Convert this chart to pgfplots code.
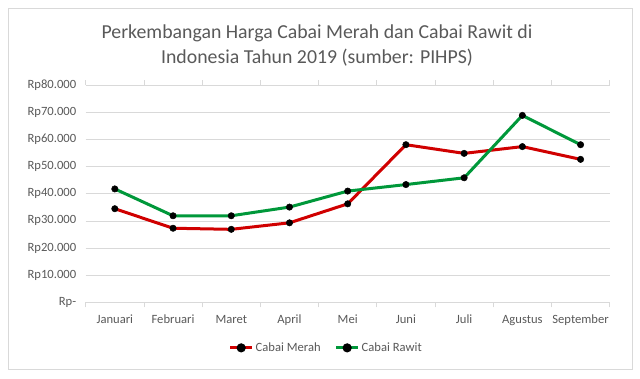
\documentclass[border=0pt]{standalone}
\usepackage{pgfplots}
\pgfplotsset{compat=1.18}
\usepackage{fontspec}
\setmainfont{Carlito}
\definecolor{txt}{HTML}{595959}
\definecolor{grid}{HTML}{D9D9D9}
\definecolor{cred}{HTML}{D00000}
\definecolor{cgreen}{HTML}{00983A}
\begin{document}
\begin{tikzpicture}[x=1pt,y=1pt]
\path[use as bounding box] (0,0) rectangle (640,379);
\draw[color=grid, line width=1pt] (8,9) rectangle (632,370);
\node[text=txt, font=\fontsize{19.8}{25}\selectfont, align=center] at (317,333) {Perkembangan Harga Cabai Merah dan Cabai Rawit di\\Indonesia Tahun 2019 (sumber: PIHPS)};
\begin{axis}[
  at={(85.7pt,76.7pt)}, anchor=south west,
  width=524pt, height=217pt, scale only axis,
  xmin=0, xmax=9, ymin=0, ymax=80000,
  scaled y ticks=false,
  axis line style={draw=none},
  xtick={0.5,1.5,...,8.5},
  xticklabels={Januari,Februari,Maret,April,Mei,Juni,Juli,Agustus,September},
  extra x ticks={0,1,...,9},
  extra x tick labels={},
  extra x tick style={major tick length=5pt, tick style={draw=grid, line width=0.8pt}, tick align=outside, grid=none},
  major tick length=0pt,
  ytick={0,10000,...,80000},
  yticklabels={Rp-,Rp10.000,Rp20.000,Rp30.000,Rp40.000,Rp50.000,Rp60.000,Rp70.000,Rp80.000},
  ymajorgrids, grid style={draw=grid, line width=0.8pt},
  tick label style={text=txt, font=\fontsize{12.6}{14}\selectfont},
  yticklabel style={xshift=-6pt},
  xticklabel style={yshift=-9pt, text height=8.5pt, text depth=2.5pt},
  legend style={at={(0.459,-0.21)}, anchor=center, draw=none, legend columns=2,
    font=\fontsize{12.6}{14}\selectfont, text=txt,
    /tikz/every even column/.append style={column sep=12pt}},
  legend image code/.code={\draw[#1] (0pt,0pt) -- (22pt,0pt); \fill[black] (11pt,0pt) circle (3pt);},
  clip=false,
]
\draw[grid, line width=0.8pt] (axis cs:0,0) -- (axis cs:9,0);
\addplot[cred, line width=3pt, mark=*, mark size=3.2pt, mark options={fill=black, draw=black, line width=0.5pt}] coordinates {
(0.5,34500) (1.5,27300) (2.5,26900) (3.5,29300) (4.5,36300) (5.5,58100) (6.5,54900) (7.5,57400) (8.5,52700)};
\addlegendentry{Cabai Merah}
\addplot[cgreen, line width=3pt, mark=*, mark size=3.2pt, mark options={fill=black, draw=black, line width=0.5pt}] coordinates {
(0.5,41800) (1.5,31900) (2.5,31900) (3.5,35100) (4.5,41000) (5.5,43400) (6.5,45900) (7.5,68900) (8.5,58100)};
\addlegendentry{Cabai Rawit}
\end{axis}
\end{tikzpicture}
\end{document}
